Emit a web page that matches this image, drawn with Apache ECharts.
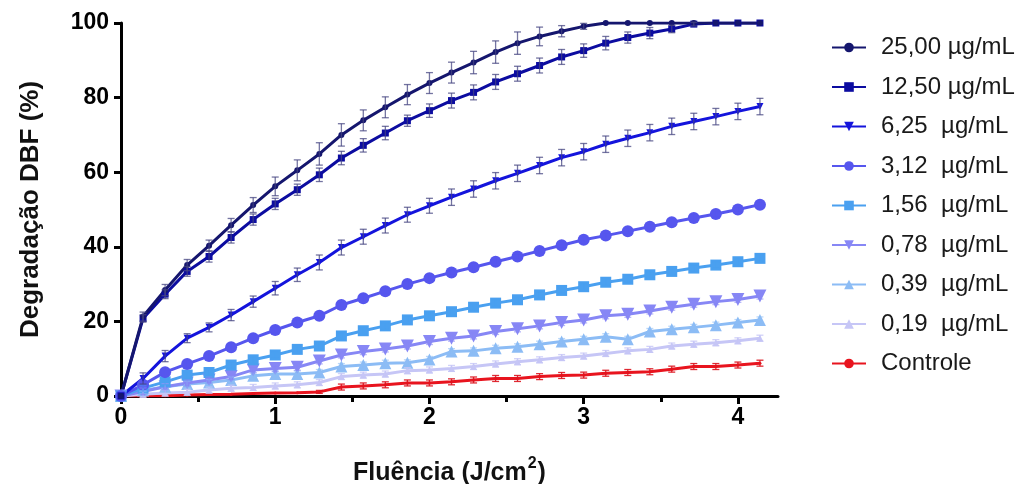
<!DOCTYPE html>
<html>
<head>
<meta charset="utf-8">
<script src="https://cdn.jsdelivr.net/npm/echarts@6/dist/echarts.min.js"></script>
<style>
html,body{margin:0;padding:0;background:#fff;}
#chart{width:1024px;height:484px;}
</style>
</head>
<body>
<div id="chart"></div>
<script>
// ---- data ----
const fluence = [0, 0.143, 0.286, 0.429, 0.571, 0.714, 0.857, 1.0, 1.143, 1.286, 1.429, 1.571, 1.714, 1.857, 2.0, 2.143, 2.286, 2.429, 2.571, 2.714, 2.857, 3.0, 3.143, 3.286, 3.429, 3.571, 3.714, 3.857, 4.0, 4.143];
const xTickLabels = [0, 1, 2, 3, 4];
const xMinorTicks = [0.5, 1.5, 2.5, 3.5];
const yTicks = [0, 20, 40, 60, 80, 100];
const seriesNames = ['25,00 µg/mL', '12,50 µg/mL', '6,25  µg/mL', '3,12  µg/mL', '1,56  µg/mL', '0,78  µg/mL', '0,39  µg/mL', '0,19  µg/mL', 'Controle'];

const s2500 = [0, 21.3, 28.4, 35.1, 40.3, 45.8, 51.2, 56.2, 60.5, 64.9, 70.0, 73.9, 77.4, 80.8, 83.9, 86.7, 89.4, 92.2, 94.6, 96.4, 97.8, 99.1, 100, 100, 100, 100, 100, 100, 100, 100];
const s1250 = [0, 20.8, 27.3, 33.4, 37.4, 42.5, 47.3, 51.5, 55.3, 59.3, 63.8, 67.2, 70.5, 73.8, 76.5, 79.2, 81.4, 84.2, 86.4, 88.6, 90.9, 92.6, 94.6, 96.1, 97.3, 98.4, 99.7, 100, 100, 100];
const s625 = [0, 4.7, 10.7, 15.5, 18.4, 21.7, 25.3, 28.9, 32.5, 35.8, 39.8, 42.7, 45.7, 48.6, 51.0, 53.3, 55.5, 57.7, 59.7, 61.8, 63.9, 65.5, 67.5, 69.1, 70.6, 72.3, 73.6, 74.9, 76.3, 77.6];
const s312 = [0, 3.0, 6.4, 8.6, 10.7, 13.1, 15.5, 17.7, 19.7, 21.5, 24.4, 26.2, 28.1, 30.0, 31.6, 33.1, 34.5, 36.0, 37.4, 38.9, 40.4, 41.9, 43.0, 44.2, 45.4, 46.6, 47.7, 48.8, 50.0, 51.3];
const s156 = [0, 2.1, 3.8, 5.6, 6.3, 8.3, 9.7, 11.0, 12.5, 13.4, 16.1, 17.5, 18.8, 20.4, 21.5, 22.6, 23.8, 24.9, 25.8, 27.1, 28.3, 29.3, 30.5, 31.3, 32.5, 33.4, 34.3, 35.1, 36.0, 36.9];
const s078 = [0, 1.2, 2.5, 3.5, 4.3, 5.2, 7.0, 7.4, 7.7, 9.4, 11.0, 11.9, 12.6, 13.4, 14.6, 15.5, 16.1, 17.3, 18.0, 18.8, 19.7, 20.4, 21.5, 21.9, 22.8, 23.8, 24.6, 25.3, 25.9, 26.8];
const s039 = [0, 1.5, 2.5, 3.2, 3.6, 4.3, 5.4, 5.9, 5.9, 6.3, 7.9, 8.3, 8.8, 8.9, 9.8, 11.9, 12.1, 12.8, 13.2, 13.9, 14.6, 15.2, 15.9, 15.2, 17.3, 17.9, 18.4, 19.0, 19.7, 20.4];
const s019 = [0, 0.5, 0.8, 1.0, 1.6, 2.1, 2.3, 2.7, 3.0, 3.6, 5.2, 5.6, 5.9, 6.8, 7.0, 7.4, 7.9, 8.6, 9.2, 9.7, 10.3, 10.7, 11.4, 12.1, 12.5, 13.4, 13.9, 14.3, 14.8, 15.5];
const sCtrl = [0, 0, 0.1, 0.3, 0.4, 0.5, 0.7, 0.8, 0.9, 1.1, 2.4, 2.7, 3.0, 3.5, 3.5, 3.8, 4.3, 4.7, 4.7, 5.2, 5.5, 5.6, 6.1, 6.3, 6.5, 7.2, 7.9, 7.9, 8.3, 8.8];

// error (± SD)
const e2500 = [0, 1.2, 1.5, 1.5, 1.5, 1.8, 2.0, 2.5, 2.8, 3.0, 3.0, 2.8, 2.8, 2.7, 2.8, 2.8, 3.0, 3.0, 3.0, 2.5, 1.5, 0.8, 0, 0, 0, 0, 0, 0, 0, 0];
const e1250 = [0, 1.0, 1.2, 1.3, 1.5, 1.5, 1.5, 1.5, 1.5, 1.8, 1.8, 1.8, 1.8, 1.5, 1.8, 2.0, 2.0, 2.0, 2.0, 2.0, 2.0, 1.8, 1.8, 1.5, 1.5, 1.0, 0.5, 0, 0, 0];
const e625 = [0, 1.5, 1.5, 1.2, 1.2, 1.5, 1.5, 1.8, 1.8, 2.0, 2.0, 2.0, 2.0, 2.0, 2.0, 2.2, 2.2, 2.2, 2.2, 2.2, 2.2, 2.2, 2.2, 2.2, 2.2, 2.2, 2.2, 2.2, 2.2, 2.2];
const eLow = [0, 0.8, 0.8, 0.8, 0.8, 0.8, 0.8, 0.8, 0.8, 0.8, 0.8, 0.8, 0.8, 0.8, 0.8, 0.8, 0.8, 0.8, 0.8, 0.8, 0.8, 0.8, 0.8, 0.8, 0.8, 0.8, 0.8, 0.8, 0.8, 0.8];
const eCtrl = [0, 0, 0, 0, 0, 0, 0, 0, 0, 0.4, 0.8, 0.8, 0.8, 0.8, 0.8, 0.8, 0.8, 0.8, 0.8, 0.8, 0.8, 0.8, 0.8, 0.8, 0.8, 0.8, 0.8, 0.8, 0.8, 0.8];

const colors = ['#15166e', '#0c0ca0', '#1414dc', '#5656ee', '#4aa0f0', '#8787f5', '#8cbcf5', '#c6c6f6', '#e8141e'];
const symbols = ['circle', 'rect', 'triangle', 'circle', 'rect', 'triangle', 'triangle', 'triangle', 'circle'];
const symbolRot = [0, 0, 180, 0, 0, 180, 0, 0, 0];
const symbolSizes = [6, 7, 7, 12, 11, 13, 12, 7, 3];
const errBarColors = ['rgba(70,70,130,0.75)', 'rgba(70,70,130,0.75)', 'rgba(70,70,130,0.75)', 'rgba(86,86,238,0.6)', 'rgba(74,160,240,0.6)', 'rgba(135,135,245,0.6)', 'rgba(140,188,245,0.6)', 'rgba(198,198,246,0.8)', 'rgba(220,20,30,0.9)'];

const allValues = [s2500, s1250, s625, s312, s156, s078, s039, s019, sCtrl];
const allErrors = [e2500, e1250, e625, eLow, eLow, eLow, eLow, eLow, eCtrl];

// ---- chart ----
const chart = echarts.init(document.getElementById('chart'), null, {renderer: 'canvas'});
const FONT = "Liberation Sans";

function errRender(color) {
  return function (params, api) {
    const x = api.value(0), lo = api.value(1), hi = api.value(2);
    if (hi - lo <= 0) return null;
    const p1 = api.coord([x, hi]);
    const p2 = api.coord([x, lo]);
    const w = 3.5;
    const st = {stroke: color, lineWidth: 1.3};
    return {
      type: 'group',
      children: [
        {type: 'line', shape: {x1: p1[0], y1: p1[1], x2: p2[0], y2: p2[1]}, style: st},
        {type: 'line', shape: {x1: p1[0] - w, y1: p1[1], x2: p1[0] + w, y2: p1[1]}, style: st},
        {type: 'line', shape: {x1: p2[0] - w, y1: p2[1], x2: p2[0] + w, y2: p2[1]}, style: st}
      ]
    };
  };
}

const series = [];
for (let k = allValues.length - 1; k >= 0; k--) {
  const vals = allValues[k];
  series.push({
    name: seriesNames[k],
    type: 'line',
    data: fluence.map((x, i) => [x, vals[i]]),
    symbol: symbols[k],
    symbolRotate: symbolRot[k],
    symbolSize: symbolSizes[k],
    showAllSymbol: true,
    lineStyle: {color: colors[k], width: 3},
    itemStyle: {color: colors[k]},
    z: 3,
    animation: false
  });
  const errs = allErrors[k];
  series.push({
    type: 'custom',
    name: 'err' + k,
    renderItem: errRender(errBarColors[k]),
    data: fluence.map((x, i) => [x, vals[i] - errs[i], vals[i] + errs[i]]),
    encode: {x: 0, y: [1, 2]},
    z: 4,
    silent: true,
    animation: false
  });
}

const option = {
  backgroundColor: '#ffffff',
  animation: false,
  grid: {left: 121, right: 246, top: 23, bottom: 88, containLabel: false, outerBoundsMode: 'none'},
  legend: {
    data: seriesNames,
    orient: 'vertical',
    left: 826,
    top: 30,
    itemWidth: 34,
    itemHeight: 12,
    itemGap: 14.5,
    textStyle: {fontFamily: FONT, fontSize: 24, color: '#1a1a1a', padding: [0, 0, 0, 10], lineHeight: 25},
    selectedMode: false
  },
  xAxis: [
    {
      type: 'value', min: 0, max: 4.26, interval: 1,
      name: '{a|Fluência (J/cm}{s|2}{a|)}', nameLocation: 'middle', nameGap: 60,
      nameTextStyle: {
        rich: {
          a: {fontFamily: FONT, fontSize: 25, fontWeight: 'bold', color: '#111', lineHeight: 30, verticalAlign: 'bottom'},
          s: {fontFamily: FONT, fontSize: 16, fontWeight: 'bold', color: '#111', lineHeight: 30, verticalAlign: 'top', padding: [0, 1, 0, 1]}
        }
      },
      axisLine: {show: true, onZero: false, lineStyle: {color: '#000', width: 3}},
      axisTick: {show: true, length: 8, lineStyle: {color: '#000', width: 3}, customValues: xTickLabels},
      axisLabel: {fontFamily: FONT, fontSize: 23, fontWeight: 'bold', color: '#000', margin: 10, customValues: xTickLabels},
      splitLine: {show: false}
    },
    {
      type: 'value', min: 0, max: 4.26, position: 'bottom',
      axisLine: {show: false},
      axisTick: {show: true, length: 6, lineStyle: {color: '#000', width: 3}, customValues: xMinorTicks},
      axisLabel: {show: false},
      splitLine: {show: false}
    }
  ],
  yAxis: {
    type: 'value', min: 0, max: 100, interval: 20,
    name: 'Degradação DBF (%)', nameLocation: 'middle', nameGap: 77, nameRotate: 90,
    nameTextStyle: {fontFamily: FONT, fontSize: 26, fontWeight: 'bold', color: '#111'},
    axisLine: {show: true, lineStyle: {color: '#000', width: 3}},
    axisTick: {show: true, length: 7, lineStyle: {color: '#000', width: 3}},
    axisLabel: {fontFamily: FONT, fontSize: 23, fontWeight: 'bold', color: '#000', margin: 12},
    splitLine: {show: false}
  },
  series: series
};
chart.setOption(option);
</script>
</body>
</html>
